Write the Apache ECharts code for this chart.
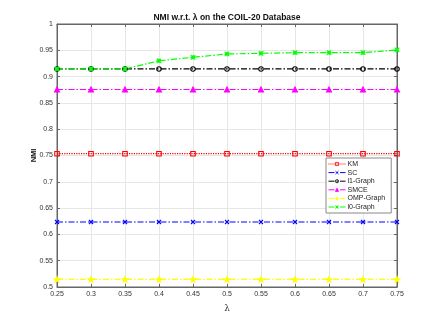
<!DOCTYPE html>
<html><head><meta charset="utf-8">
<script src="https://cdn.jsdelivr.net/npm/echarts@6/dist/echarts.min.js"></script>
<style>html,body{margin:0;padding:0;background:#fff}#c{width:438px;height:323px}</style>
</head><body><div id="c"></div>
<script>
var lambdas = [0.25, 0.3, 0.35, 0.4, 0.45, 0.5, 0.55, 0.6, 0.65, 0.7, 0.75];
var kmNMI   = [0.7534,0.7534,0.7534,0.7534,0.7534,0.7534,0.7534,0.7534,0.7534,0.7534,0.7534];
var scNMI   = [0.6236,0.6236,0.6236,0.6236,0.6236,0.6236,0.6236,0.6236,0.6236,0.6236,0.6236];
var l1NMI   = [0.9145,0.9145,0.9145,0.9145,0.9145,0.9145,0.9145,0.9145,0.9145,0.9145,0.9145];
var smceNMI = [0.8755,0.8755,0.8755,0.8755,0.8755,0.8755,0.8755,0.8755,0.8755,0.8755,0.8755];
var ompNMI  = [0.5146,0.5146,0.5146,0.5146,0.5146,0.5146,0.5146,0.5146,0.5146,0.5146,0.5146];
var l0NMI   = [0.9145,0.9145,0.9145,0.9300,0.9367,0.9430,0.9443,0.9455,0.9455,0.9455,0.9506];
var seriesNames = ['KM','SC','l1-Graph','SMCE','OMP-Graph','l0-Graph'];
var xTickLabels = ['0.25','0.3','0.35','0.4','0.45','0.5','0.55','0.6','0.65','0.7','0.75'];

function pts(arr){ return lambdas.map(function(x,i){return [x,arr[i]];}); }
var X = 'path://M0,0L10,10M10,0L0,10';
var AST = 'path://M0,0L10,10M10,0L0,10M5,0L5,10M0,5L10,5';
var STAR = 'path://M50,0L61,35L98,35L68,57L79,91L50,70L21,91L32,57L2,35L39,35Z';
var dashdot = [6,2,1.5,2];
function mk(name, data, color, symbol, size, ltype, hollow){
  return {
    name: name, type: 'line', data: pts(data), symbol: symbol, symbolSize: size,
    lineStyle: {color: color, width: 1.2, type: ltype},
    itemStyle: {color: hollow ? 'rgba(0,0,0,0)' : color, borderColor: color, borderWidth: 1.1},
    emphasis: {disabled: true}, animation: false
  };
}
var font = 'Liberation Sans, Arial, Helvetica, sans-serif';
var axisCol = '#666';
var chart = echarts.init(document.getElementById('c'));
chart.setOption({
  animation: false,
  title: {text: 'NMI w.r.t. \u03bb on the COIL-20 Database', left: 222, top: 8, textAlign: 'center',
    textStyle: {fontFamily: font, fontSize: 8.5, fontWeight: 'bold', color: '#111'}},
  grid: {left: 57, right: 41, top: 24, bottom: 36, show: true, borderColor: axisCol, borderWidth: 1},
  legend: {
    orient: 'vertical', left: 326, top: 158,
    data: seriesNames,
    itemWidth: 17, itemHeight: 4, itemGap: 0.6,
    padding: [2, 6, 2, 2],
    borderColor: '#888', borderWidth: 1, backgroundColor: '#fff',
    itemStyle: {borderWidth: 0.8},
    lineStyle: {width: 1},
    textStyle: {fontFamily: font, fontSize: 7, color: '#222', padding: [0,0,0,-3], lineHeight: 8}
  },
  xAxis: [{
    type: 'value', min: 0.25, max: 0.75, interval: 0.05,
    name: '\u03bb', nameLocation: 'middle', nameGap: 17, nameMoveOverlap: false,
    nameTextStyle: {fontFamily: 'DejaVu Serif, serif', fontSize: 9, color: '#333'},
    axisLine: {lineStyle: {color: axisCol}},
    axisTick: {inside: true, length: 3, lineStyle: {color: axisCol}},
    axisLabel: {fontFamily: font, fontSize: 7, color: '#333', margin: 4,
      formatter: function(v){ var i = Math.round((v-0.25)/0.05); return xTickLabels[i]; }},
    splitLine: {show: true, lineStyle: {color: '#e6e6e6'}}
  },{
    type: 'value', position: 'top', min: 0.25, max: 0.75, interval: 0.05,
    axisLine: {lineStyle: {color: axisCol}},
    axisTick: {inside: true, length: 3, lineStyle: {color: axisCol}},
    axisLabel: {show: false}, splitLine: {show: false}
  }],
  yAxis: [{
    type: 'value', min: 0.5, max: 1, interval: 0.05,
    name: 'NMI', nameLocation: 'middle', nameGap: 19, nameMoveOverlap: false,
    nameTextStyle: {fontFamily: font, fontSize: 7.5, fontWeight: 'bold', color: '#111'},
    axisLine: {lineStyle: {color: axisCol}},
    axisTick: {inside: true, length: 3, lineStyle: {color: axisCol}},
    axisLabel: {fontFamily: font, fontSize: 7, color: '#333', margin: 4,
      formatter: function(v){ return parseFloat(v.toFixed(2)).toString(); }},
    splitLine: {show: true, lineStyle: {color: '#e6e6e6'}}
  },{
    type: 'value', position: 'right', min: 0.5, max: 1, interval: 0.05,
    axisLine: {lineStyle: {color: axisCol}},
    axisTick: {inside: true, length: 3, lineStyle: {color: axisCol}},
    axisLabel: {show: false}, splitLine: {show: false}
  }],
  series: [
    mk('KM', kmNMI, '#ff0000', 'rect', 4.5, 'dotted', true),
    mk('SC', scNMI, '#0000ff', X, 4, dashdot, false),
    mk('l1-Graph', l1NMI, '#000000', 'circle', 4.5, dashdot, true),
    mk('SMCE', smceNMI, '#ff00ff', 'triangle', 5, dashdot, false),
    mk('OMP-Graph', ompNMI, '#ffff00', STAR, 5.5, dashdot, false),
    mk('l0-Graph', l0NMI, '#00ff00', AST, 4.5, dashdot, false)
  ]
});
</script></body></html>
